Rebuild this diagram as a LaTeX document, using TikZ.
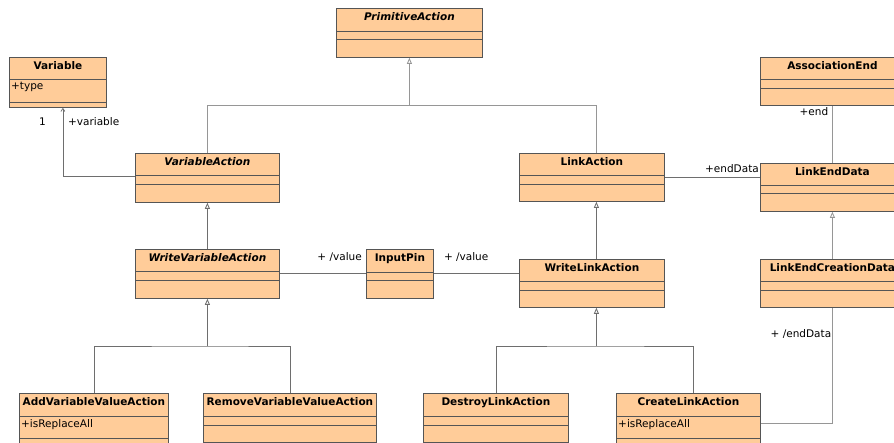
\documentclass[tikz,border=0pt]{standalone}
\usepackage{fontspec}
\setmainfont{DejaVu Sans}
\usetikzlibrary{arrows.meta}
\definecolor{classFill}{RGB}{255,204,153}
\definecolor{classLine}{RGB}{85,85,85}
\definecolor{linkGray}{RGB}{110,110,110}
\definecolor{linkLight}{RGB}{150,150,150}

\begin{document}
\begin{tikzpicture}[
    x=1pt, y=-1pt,
    classbox/.style={
      rectangle, draw=classLine, fill=classFill, line width=0.8pt,
      anchor=north west, inner sep=0pt, minimum height=49pt
    },
    title/.style={anchor=north, inner sep=0pt, yshift=-4.5pt,
      font=\fontsize{10.5}{12}\selectfont\bfseries},
    abstract/.style={title, font=\fontsize{10.5}{12}\selectfont\bfseries\itshape},
    attr/.style={anchor=north west, inner sep=0pt, xshift=2pt, yshift=-2.5pt,
      font=\fontsize{10.5}{12}\selectfont},
    role/.style={font=\fontsize{10.5}{12}\selectfont, inner sep=0pt},
    divider/.style={draw=classLine, line width=0.8pt},
    assoc/.style={draw=linkGray, line width=0.8pt},
    light/.style={assoc, draw=linkLight},
    gen/.style={-{Triangle[open, length=6pt, width=5pt]}},
    nav/.style={assoc, -{Straight Barb[length=3pt, width=4pt]}},
  ]
  \useasboundingbox (0,0) rectangle (894,443);

  % classes
  \node[classbox, minimum width=146, label={[abstract]north:PrimitiveAction}] (primitive) at (336,8) {};
  \node[classbox, minimum width=97, minimum height=50, label={[title]north:Variable}] (variable) at (9,57) {};
  \node[classbox, minimum width=144, label={[abstract]north:VariableAction}] (varaction) at (135,153) {};
  \node[classbox, minimum width=144, label={[abstract]north:WriteVariableAction}] (writevar) at (135,249) {};
  \node[classbox, minimum width=67, label={[title]north:InputPin}] (inputpin) at (366,249) {};
  \node[classbox, minimum width=145, minimum height=48, label={[title]north:LinkAction}] (linkaction) at (519,153) {};
  \node[classbox, minimum width=145, minimum height=48, label={[title]north:WriteLinkAction}] (writelink) at (519,259) {};
  \node[classbox, minimum width=144, minimum height=48, label={[title]north:AssociationEnd}] (assocend) at (760,57) {};
  \node[classbox, minimum width=144, minimum height=48, label={[title]north:LinkEndData}] (linkend) at (760,163) {};
  \node[classbox, minimum width=144, minimum height=48, label={[title]north:LinkEndCreationData}] (linkcreate) at (760,259) {};
  \node[classbox, minimum width=149, minimum height=60, label={[title]north:AddVariableValueAction}] (addvar) at (19,393) {};
  \node[classbox, minimum width=173, label={[title]north:RemoveVariableValueAction}] (removevar) at (203,393) {};
  \node[classbox, minimum width=145, label={[title]north:DestroyLinkAction}] (destroy) at (423,393) {};
  \node[classbox, minimum width=144, minimum height=60, label={[title]north:CreateLinkAction}] (create) at (616,393) {};

  % compartments
  \foreach \n/\a/\b in {primitive/23/31, variable/22/45, varaction/22.5/31,
      writevar/22.5/31, inputpin/23/31, linkaction/22/31, writelink/22/31,
      assocend/22/31, linkend/22/30, linkcreate/22/31, addvar/23.5/45,
      removevar/23.5/32, destroy/23.5/32, create/23.5/45} {
    \draw[divider] ([yshift=-\a pt]\n.north west) -- ([yshift=-\a pt]\n.north east)
                   ([yshift=-\b pt]\n.north west) -- ([yshift=-\b pt]\n.north east);
  }

  \node[attr] (variable-type) at ([yshift=-22pt]variable.north west) {+type};
  \node[attr] (addvar-replace) at ([yshift=-23.5pt]addvar.north west) {+isReplaceAll};
  \node[attr] (create-replace) at ([yshift=-23.5pt]create.north west) {+isReplaceAll};

  % generalizations
  \coordinate (primfork) at (primitive.south |- 0,105);
  \coordinate (writevarfork) at (writevar.south |- 0,346);
  \coordinate (writelinkfork) at ([xshift=4.5pt]writelink.south |- 0,346);
  \draw[light] (varaction.north) |- (primfork);
  \draw[light] ([xshift=4.5pt]linkaction.north) |- (primfork);
  \draw[light, gen] (primfork) -- (primitive.south);
  \draw[assoc, gen] (writevar.north) -- (varaction.south);
  \draw[assoc, gen] ([xshift=4.5pt]writelink.north) -- ([xshift=4.5pt]linkaction.south);
  \draw[light, gen] (linkcreate.north) -- (linkend.south);
  \draw[assoc] (addvar.north) |- (writevarfork) -| (removevar.north);
  \draw[assoc, gen] (writevarfork) -- (writevar.south);
  \draw[assoc] (destroy.north) |- (writelinkfork) -| ([xshift=4.5pt]create.north);
  \draw[assoc, gen] (writelinkfork) -- ([xshift=4.5pt]writelink.south);

  % associations
  \draw[nav] ([yshift=-23.5pt]varaction.north west) -| ([xshift=5pt]variable.south);
  \draw[assoc] (writevar.east) -- (inputpin.west);
  \draw[assoc] (inputpin.east) -- (inputpin.east -| writelink.west);
  \draw[assoc] (linkaction.east) -- (linkaction.east -| linkend.west);
  \draw[light] (assocend.south) -- (linkend.north);
  \draw[light] ([yshift=-30pt]create.north east) -| (linkcreate.south);

  % role names
  \node[role] (varmult) at ([xshift=-15.5pt,yshift=-14pt]variable.south) {1};
  \node[role, anchor=west] (varrole) at ([xshift=10pt,yshift=-14pt]variable.south) {+variable};
  \node[role, anchor=east] (valuein) at ([xshift=-4pt,yshift=17pt]inputpin.west) {+ /value};
  \node[role, anchor=west] (valueout) at ([xshift=10pt,yshift=17pt]inputpin.east) {+ /value};
  \node[role, anchor=east] (endrole) at ([xshift=-4pt,yshift=-6pt]assocend.south) {+end};
  \node[role, anchor=east] (enddatarole) at ([xshift=-1pt,yshift=-6pt]linkend.north west) {+endData};
  \node[role, anchor=east] (createrole) at ([xshift=-1pt,yshift=-26pt]linkcreate.south) {+ /endData};
\end{tikzpicture}
\end{document}
